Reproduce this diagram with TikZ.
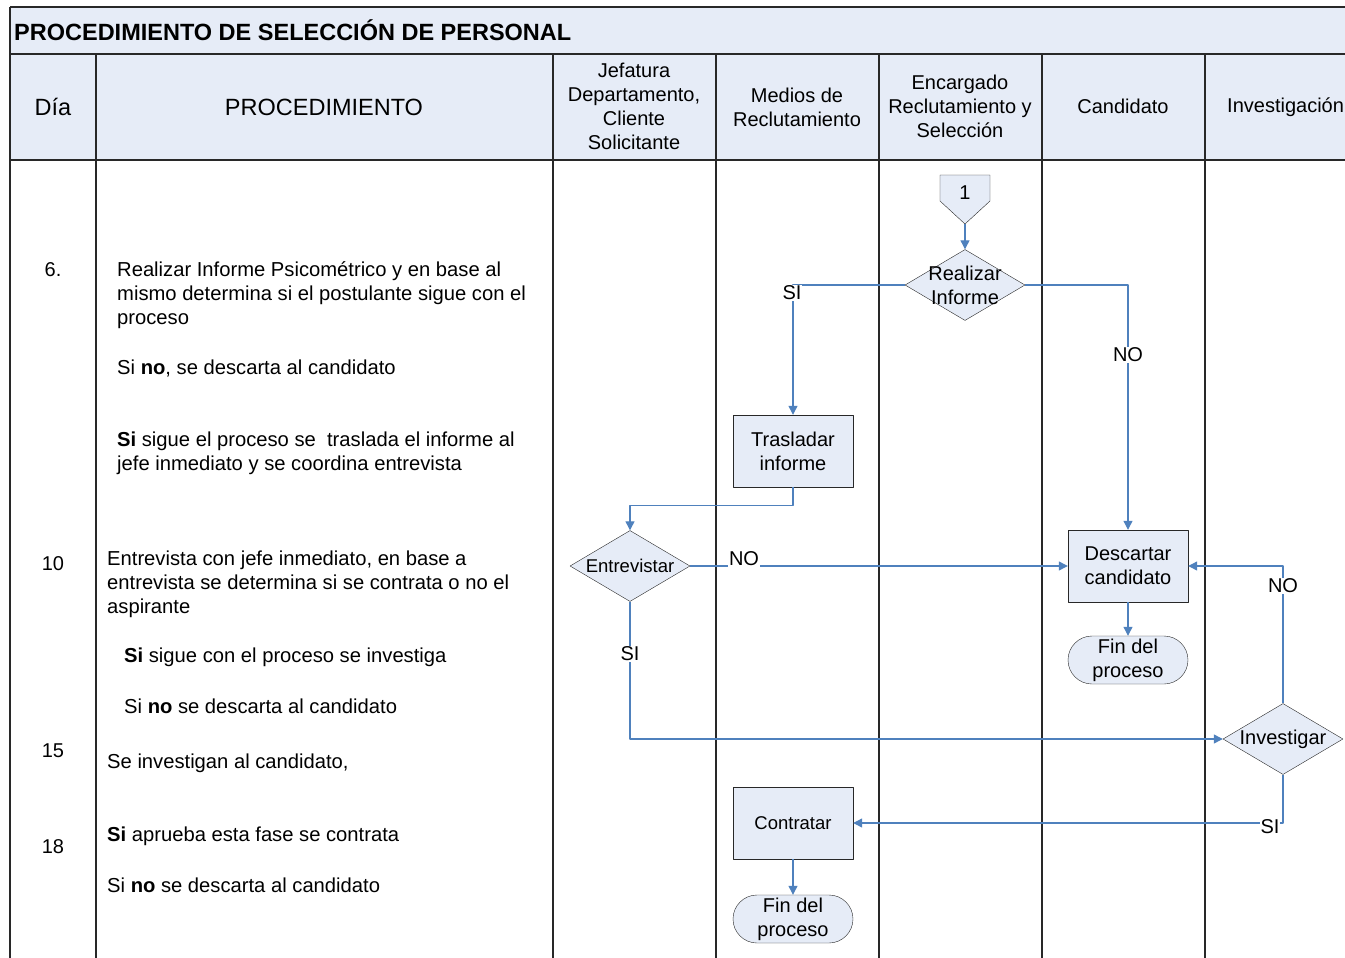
\documentclass[tikz,border=0pt]{standalone}
\usepackage{fontspec}
\setmainfont{Liberation Sans}
\usetikzlibrary{shapes.geometric,arrows.meta}
\definecolor{celda}{RGB}{230,236,247}
\definecolor{azulflujo}{RGB}{79,129,189}
\definecolor{borde}{RGB}{40,40,40}
\newcommand{\tam}[1]{\fontsize{#1}{24}\selectfont}
\begin{document}
\begin{tikzpicture}[x=1pt,y=-1pt,line join=round,>={Triangle[length=9pt,width=9pt]},
	proc/.style={draw=borde,fill=celda,minimum width=120pt,minimum height=72pt,align=center,font=\tam{20}},
	dec/.style={diamond,draw=borde,fill=celda,inner sep=0pt,minimum width=120pt,minimum height=71pt},
	fin/.style={draw=borde,fill=celda,rounded corners=24pt,inner sep=0pt,minimum width=120pt,minimum height=48pt,align=center,font=\tam{20}},
	flecha/.style={draw=azulflujo,line width=1.2pt,->},
	lbl/.style={fill=white,inner sep=1pt,font=\tam{20}},
	txt/.style={align=left,inner sep=0pt,font=\tam{20.2},anchor=west}]
			\useasboundingbox (0,0) rectangle (1345,958);
			\fill[celda] (10,7) rectangle (1345,160);
			\draw[borde,line width=1.3pt] (10,7)--(1345,7) (10,54)--(1345,54) (10,160)--(1345,160) (10,7)--(10,958);
			\foreach \x in {96,553,716,879,1042,1205} \draw[borde,line width=1.3pt] (\x,54)--(\x,958);
			\node[anchor=west,inner sep=0pt,font=\bfseries\tam{23.5}] (titulo) at (14,30) {PROCEDIMIENTO DE SELECCIÓN DE PERSONAL};
			\node[font=\tam{23.5}] (hdia) at (53,107) {Día};
			\node[font=\tam{23.5}] (hproc) at (324,107) {PROCEDIMIENTO};
			\node[align=center,font=\tam{20}] (hjef) at (634,106) {Jefatura\\Departamento,\\Cliente\\Solicitante};
			\node[align=center,font=\tam{20}] (hmed) at (797,107) {Medios de\\Reclutamiento};
			\node[align=center,font=\tam{20}] (henc) at (960,106) {Encargado\\Reclutamiento y\\Selección};
			\node[font=\tam{20}] (hcan) at (1123,106) {Candidato};
			\node[anchor=west,inner sep=0pt,font=\tam{20}] (hinv) at (1227,107) {Investigación};
			\draw[borde,fill=celda] (940,175)--(990,175)--(990,201)--(965,224)--(940,201)--cycle;
			\node[font=\tam{20}] (c1) at (965,193) {1};
			\coordinate (c1p) at (965,224);
			\node[dec] (realizar) at (965,285) {};
			\node[align=center,font=\tam{20}] (realizart) at (realizar) {Realizar\\Informe};
			\node[dec] (entrevistar) at (630,566) {};
			\node[font=\tam{18.5}] (entrevistart) at (entrevistar) {Entrevistar};
			\node[dec] (investigar) at (1283,739) {};
			\node[font=\tam{20}] (investigart) at (investigar) {Investigar};
			\node[proc] (trasladar) at (793,451) {Trasladar\\informe};
			\node[proc] (descartar) at (1128,566) {Descartar\\candidato};
			\node[fin] (fin1) at (1128,660) {Fin del\\proceso};
			\node[proc,font=\tam{18.5}] (contratar) at (793,823) {Contratar};
			\node[fin] (fin2) at (793,919) {Fin del\\proceso};
			\draw[flecha] (c1p)--(realizar.north);
			\draw[flecha] (realizar.west) -| (trasladar.north);
			\draw[flecha] (realizar.east) -| (descartar.north);
			\draw[flecha] (trasladar.south)--++(0,18) -| (entrevistar.north);
			\draw[flecha] (entrevistar.east)--(descartar.west);
			\draw[flecha] (entrevistar.south) |- (investigar.west);
			\draw[flecha] (investigar.north) |- (descartar.east);
			\draw[flecha] (investigar.south) |- (contratar.east);
			\draw[flecha] (descartar.south)--(fin1.north);
			\draw[flecha] (contratar.south)--(fin2.north);
			\node[lbl] (si1) at (792,293) {SI};
			\node[lbl] (no1) at (1128,355) {NO};
			\node[lbl] (no2) at (744,559) {NO};
			\node[lbl] (si2) at (630,654) {SI};
			\node[lbl] (no3) at (1283,586) {NO};
			\node[lbl] (si3) at (1270,827) {SI};
			\node[font=\tam{20}] (d6) at (53,270) {6.};
			\node[font=\tam{20}] (d10) at (53,564) {10};
			\node[font=\tam{20}] (d15) at (53,751) {15};
			\node[font=\tam{20}] (d18) at (53,847) {18};
			\node[txt] (p6a) at (117,295) {Realizar Informe Psicométrico y en base al\\mismo determina si el postulante sigue con el\\proceso};
			\node[txt] (p6b) at (117,368) {Si \textbf{no}, se descarta al candidato};
			\node[txt] (p6c) at (117,453) {\textbf{Si} sigue el proceso se\ \ traslada el informe al\\jefe inmediato y se coordina entrevista};
			\node[txt] (p10a) at (107,584) {Entrevista con jefe inmediato, en base a\\entrevista se determina si se contrata o no el\\aspirante};
			\node[txt] (p10b) at (124,657) {\textbf{Si} sigue con el proceso se investiga};
			\node[txt] (p10c) at (124,706) {Si \textbf{no} se descarta al candidato};
			\node[txt] (p15) at (107,763) {Se investigan al candidato,};
			\node[txt] (p18a) at (107,836) {\textbf{Si} aprueba esta fase se contrata};
			\node[txt] (p18b) at (107,885) {Si \textbf{no} se descarta al candidato};
	\end{tikzpicture}
\end{document}
